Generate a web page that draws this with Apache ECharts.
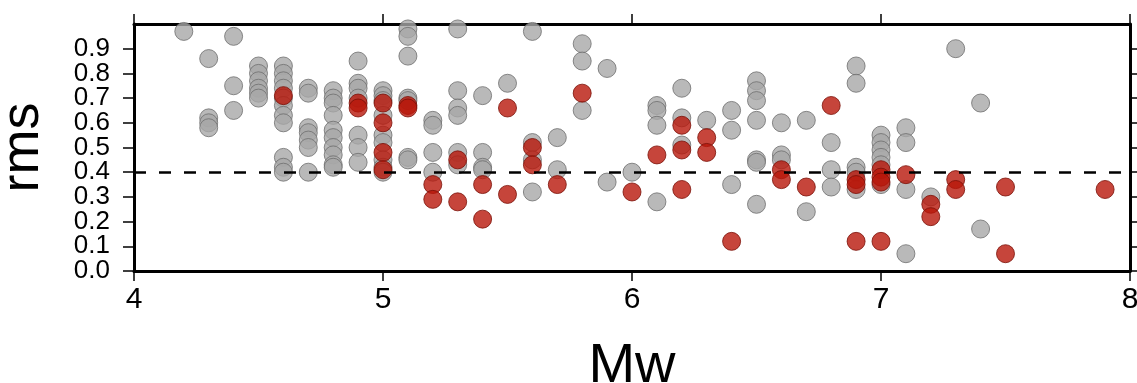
<!DOCTYPE html>
<html>
<head>
<meta charset="utf-8">
<script src="https://cdn.jsdelivr.net/npm/echarts@6/dist/echarts.min.js"></script>
<style>
  html, body { margin: 0; padding: 0; background: #fff; }
  #chart { width: 1137px; height: 383px; }
</style>
</head>
<body>
<div id="chart"></div>
<script>
// x ticks (Mw) and y ticks (rms)
const xTicks = [4, 5, 6, 7, 8];
const yTicks = [0, 0.1, 0.2, 0.3, 0.4, 0.5, 0.6, 0.7, 0.8, 0.9];
const threshold = 0.4;

// gray events: [Mw, rms]
const grayPoints = [
  [4.2, 0.97],
  [4.3, 0.86], [4.3, 0.62], [4.3, 0.60], [4.3, 0.58],
  [4.4, 0.95], [4.4, 0.75], [4.4, 0.65],
  [4.5, 0.83], [4.5, 0.80], [4.5, 0.77], [4.5, 0.74], [4.5, 0.72], [4.5, 0.70],
  [4.6, 0.83], [4.6, 0.80], [4.6, 0.77], [4.6, 0.74], [4.6, 0.70], [4.6, 0.67],
  [4.6, 0.63], [4.6, 0.60], [4.6, 0.46], [4.6, 0.42], [4.6, 0.40],
  [4.7, 0.74], [4.7, 0.72], [4.7, 0.58], [4.7, 0.56], [4.7, 0.53], [4.7, 0.50], [4.7, 0.40],
  [4.8, 0.73], [4.8, 0.70], [4.8, 0.68], [4.8, 0.63], [4.8, 0.57], [4.8, 0.54],
  [4.8, 0.50], [4.8, 0.47], [4.8, 0.43], [4.8, 0.42],
  [4.9, 0.85], [4.9, 0.76], [4.9, 0.74], [4.9, 0.70], [4.9, 0.55], [4.9, 0.50], [4.9, 0.44],
  [5.0, 0.73], [5.0, 0.71], [5.0, 0.69], [5.0, 0.63], [5.0, 0.55], [5.0, 0.52],
  [5.0, 0.45], [5.0, 0.42], [5.0, 0.40],
  [5.1, 0.98], [5.1, 0.95], [5.1, 0.87], [5.1, 0.70], [5.1, 0.69], [5.1, 0.46], [5.1, 0.45],
  [5.2, 0.61], [5.2, 0.59], [5.2, 0.48], [5.2, 0.40],
  [5.3, 0.98], [5.3, 0.73], [5.3, 0.66], [5.3, 0.63], [5.3, 0.48], [5.3, 0.43],
  [5.4, 0.71], [5.4, 0.48], [5.4, 0.42], [5.4, 0.41],
  [5.5, 0.76],
  [5.6, 0.97], [5.6, 0.52], [5.6, 0.45], [5.6, 0.32],
  [5.7, 0.54], [5.7, 0.41],
  [5.8, 0.92], [5.8, 0.85], [5.8, 0.65],
  [5.9, 0.82], [5.9, 0.36],
  [6.0, 0.40],
  [6.1, 0.67], [6.1, 0.65], [6.1, 0.59], [6.1, 0.28],
  [6.2, 0.74], [6.2, 0.62], [6.2, 0.51],
  [6.3, 0.61],
  [6.4, 0.65], [6.4, 0.57], [6.4, 0.35],
  [6.5, 0.77], [6.5, 0.73], [6.5, 0.69], [6.5, 0.61], [6.5, 0.45], [6.5, 0.44], [6.5, 0.27],
  [6.6, 0.60], [6.6, 0.47], [6.6, 0.45],
  [6.7, 0.61], [6.7, 0.24],
  [6.8, 0.52], [6.8, 0.41], [6.8, 0.34],
  [6.9, 0.83], [6.9, 0.76], [6.9, 0.42], [6.9, 0.40], [6.9, 0.33],
  [7.0, 0.55], [7.0, 0.52], [7.0, 0.49], [7.0, 0.46], [7.0, 0.43], [7.0, 0.35],
  [7.1, 0.58], [7.1, 0.52], [7.1, 0.33], [7.1, 0.07],
  [7.2, 0.30],
  [7.3, 0.90],
  [7.4, 0.68], [7.4, 0.17]
];

// red events: [Mw, rms]
const redPoints = [
  [4.6, 0.71],
  [4.9, 0.68], [4.9, 0.66],
  [5.0, 0.68], [5.0, 0.60], [5.0, 0.48], [5.0, 0.41],
  [5.1, 0.67], [5.1, 0.66],
  [5.2, 0.35], [5.2, 0.29],
  [5.3, 0.45], [5.3, 0.28],
  [5.4, 0.35], [5.4, 0.21],
  [5.5, 0.66], [5.5, 0.31],
  [5.6, 0.50], [5.6, 0.43],
  [5.7, 0.35],
  [5.8, 0.72],
  [6.0, 0.32],
  [6.1, 0.47],
  [6.2, 0.59], [6.2, 0.49], [6.2, 0.33],
  [6.3, 0.54], [6.3, 0.48],
  [6.4, 0.12],
  [6.6, 0.41], [6.6, 0.37],
  [6.7, 0.34],
  [6.8, 0.67],
  [6.9, 0.37], [6.9, 0.35], [6.9, 0.12],
  [7.0, 0.41], [7.0, 0.38], [7.0, 0.36], [7.0, 0.12],
  [7.1, 0.39],
  [7.2, 0.27], [7.2, 0.22],
  [7.3, 0.37], [7.3, 0.33],
  [7.5, 0.34], [7.5, 0.07],
  [7.9, 0.33]
];

const FONT = "'Liberation Sans', Helvetica, Arial, sans-serif";
const frameLine = { show: true, onZero: false, lineStyle: { color: "#000", width: 3 } };
const tick = { show: true, inside: false, length: 10, lineStyle: { color: "#000", width: 1.5 } };

// y tick labels split over two left axes so neighbouring labels never collide
const yLabelsEven = yTicks.filter((v, i) => i % 2 === 0);
const yLabelsOdd = yTicks.filter((v, i) => i % 2 === 1);
const yLabelStyle = {
  fontSize: 26, color: "#000", margin: 24, fontFamily: FONT,
  showMinLabel: true, showMaxLabel: true, hideOverlap: false,
  formatter: (v) => v.toFixed(1)
};

const chart = echarts.init(document.getElementById("chart"));

chart.setOption({
  animation: false,
  backgroundColor: "#fff",
  grid: { left: 134, right: 7, top: 24, bottom: 112, containLabel: false, outerBoundsMode: "none" },
  xAxis: [
    {
      type: "value", position: "bottom", min: 4, max: 8, interval: 1,
      axisLine: frameLine,
      axisTick: { ...tick, customValues: xTicks },
      axisLabel: {
        customValues: xTicks, fontSize: 30, color: "#000", margin: 14, fontFamily: FONT,
        showMinLabel: true, showMaxLabel: true, hideOverlap: false
      },
      splitLine: { show: false },
      name: "Mw", nameLocation: "middle", nameGap: 68,
      nameTextStyle: { fontSize: 56, color: "#000", fontFamily: FONT }
    },
    {
      type: "value", position: "top", min: 4, max: 8, interval: 1,
      axisLine: frameLine,
      axisTick: { ...tick, customValues: xTicks },
      axisLabel: { show: false },
      splitLine: { show: false }
    }
  ],
  yAxis: [
    {
      type: "value", position: "left", min: 0, max: 1, interval: 0.1,
      axisLine: frameLine,
      axisTick: { ...tick, length: 11, customValues: yTicks },
      axisLabel: { ...yLabelStyle, customValues: yLabelsEven },
      splitLine: { show: false },
      name: "rms", nameLocation: "middle", nameGap: 84, nameRotate: 90,
      nameTextStyle: { fontSize: 54, color: "#000", fontFamily: FONT }
    },
    {
      type: "value", position: "right", min: 0, max: 1, interval: 0.1,
      axisLine: frameLine,
      axisTick: { ...tick, customValues: yTicks },
      axisLabel: { show: false },
      splitLine: { show: false }
    },
    {
      type: "value", position: "left", min: 0, max: 1, interval: 0.1,
      axisLine: { show: false },
      axisTick: { show: false },
      axisLabel: { ...yLabelStyle, customValues: yLabelsOdd },
      splitLine: { show: false }
    }
  ],
  series: [
    {
      name: "gray", type: "scatter", data: grayPoints, symbolSize: 18, z: 2,
      itemStyle: { color: "#a8a8a8", borderColor: "#6e6e6e", borderWidth: 1 }
    },
    {
      name: "red", type: "scatter", data: redPoints, symbolSize: 18, z: 3,
      itemStyle: { color: "#b8170a", borderColor: "#7a0f06", borderWidth: 1 }
    },
    {
      name: "threshold", type: "scatter", data: [], z: 5,
      markLine: {
        silent: true, symbol: "none", label: { show: false },
        lineStyle: { color: "#000", width: 2.5, type: [12, 13] },
        data: [{ yAxis: threshold }]
      }
    }
  ]
});
</script>
</body>
</html>
